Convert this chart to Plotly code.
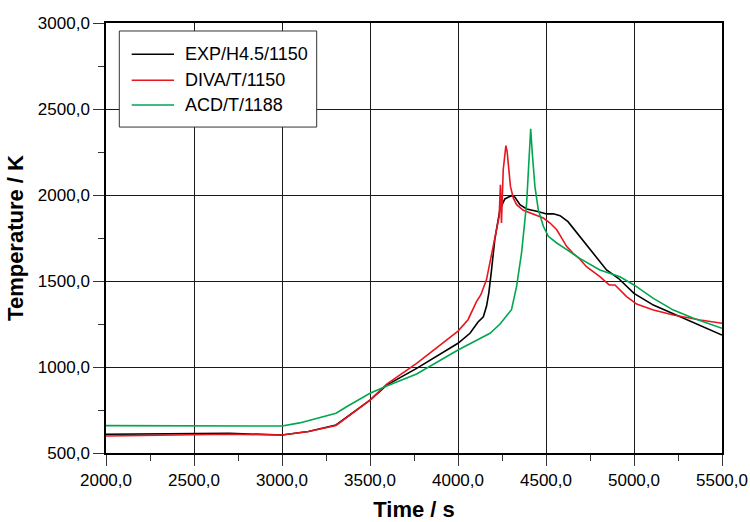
import plotly.graph_objects as go

# --- data -------------------------------------------------------------
exp_t = [2000, 2300, 2700, 3000, 3150, 3307, 3500, 3595, 3765, 4000, 4068, 4114,
         4144, 4162, 4175, 4190, 4209, 4238, 4266, 4304, 4323, 4352, 4390, 4447,
         4504, 4542, 4580, 4625, 4692, 4768, 4844, 4911, 5000, 5110, 5243, 5376, 5500]
exp_T = [609, 611, 614, 605, 625, 663, 808, 895, 992, 1138, 1196, 1262,
         1292, 1353, 1430, 1560, 1740, 1915, 1977, 1996, 1988, 1944, 1919, 1905,
         1890, 1891, 1880, 1845, 1758, 1661, 1564, 1516, 1428, 1360, 1302, 1244, 1186]

diva_t = [2000, 2300, 2700, 3000, 3150, 3307, 3500, 3595, 3765, 4000, 4057, 4105,
          4130, 4162, 4197, 4209, 4234, 4241, 4247, 4257, 4266, 4272, 4279, 4285,
          4298, 4314, 4333, 4371, 4409, 4447, 4485, 4523, 4561, 4618, 4654, 4694,
          4730, 4806, 4859, 4892, 4911, 4958, 5015, 5110, 5224, 5376, 5500]
diva_T = [599, 603, 609, 605, 625, 660, 808, 900, 1021, 1209, 1275, 1380,
          1420, 1508, 1680, 1740, 1876, 2060, 1837, 2147, 2254, 2287, 2254, 2186,
          2050, 1983, 1944, 1911, 1895, 1880, 1866, 1837, 1798, 1700, 1661, 1625,
          1583, 1525, 1477, 1477, 1457, 1409, 1366, 1331, 1302, 1273, 1254]

acd_t = [2000, 2500, 2700, 3000, 3100, 3200, 3307, 3367, 3500, 3595, 3765, 4000,
         4182, 4239, 4257, 4304, 4333, 4361, 4390, 4403, 4413, 4422, 4437, 4456,
         4485, 4513, 4561, 4618, 4694, 4806, 4920, 5000, 5110, 5224, 5338, 5500]
acd_T = [659, 659, 660, 657, 675, 700, 731, 769, 847, 889, 959, 1099,
         1196, 1250, 1275, 1333, 1469, 1663, 1953, 2205, 2385, 2244, 2050, 1915,
         1818, 1760, 1721, 1682, 1630, 1564, 1525, 1477, 1399, 1331, 1283, 1225]

series_names = ["EXP/H4.5/1150", "DIVA/T/1150", "ACD/T/1188"]
series_colors = ["#000000", "#e8161e", "#00a650"]

x_ticks = [2000, 2500, 3000, 3500, 4000, 4500, 5000, 5500]
y_ticks = [500, 1000, 1500, 2000, 2500, 3000]
x_ticktext = [f"{v:.1f}".replace(".", ",") for v in x_ticks]
y_ticktext = [f"{v:.1f}".replace(".", ",") for v in y_ticks]

FONT = "Liberation Sans, Arial, Helvetica, sans-serif"

# --- figure -----------------------------------------------------------
fig = go.Figure()
for name, color, xs, ys in zip(series_names, series_colors,
                               [exp_t, diva_t, acd_t], [exp_T, diva_T, acd_T]):
    fig.add_trace(go.Scatter(x=xs, y=ys, mode="lines", name=name,
                             line=dict(color=color, width=1.6), showlegend=False))

axis_common = dict(
    showline=True, mirror=True, linecolor="#000000", linewidth=1.5,
    showgrid=True, gridcolor="#1a1a1a", gridwidth=1,
    ticks="outside", ticklen=11, tickwidth=1, tickcolor="#333333",
    tickfont=dict(family=FONT, size=17, color="#000000"),
    zeroline=False,
)

fig.update_xaxes(
    range=[2000, 5500], tickmode="array", tickvals=x_ticks, ticktext=x_ticktext,
    minor=dict(dtick=250, tick0=2000, ticks="outside", ticklen=6,
               tickcolor="#333333", showgrid=False),
    title=dict(text="<b>Time / s</b>", standoff=14,
               font=dict(family=FONT, size=22, color="#000000")),
    **axis_common,
)
fig.update_yaxes(
    range=[500, 3000], tickmode="array", tickvals=y_ticks, ticktext=y_ticktext,
    minor=dict(dtick=250, tick0=500, ticks="outside", ticklen=6,
               tickcolor="#333333", showgrid=False),
    title=dict(text="<b>Temperature / K</b>", standoff=8,
               font=dict(family=FONT, size=22, color="#000000")),
    **axis_common,
)

# --- legend box drawn in paper coordinates ------------------------------
legend_box = dict(x0=0.0216, x1=0.342, y0=0.758, y1=0.9814)
legend_rows = [0.9272, 0.8670, 0.8093]
sample_x = (0.0417, 0.1104)
label_x = 0.1255

shapes = [dict(type="rect", xref="paper", yref="paper", layer="above",
               fillcolor="#ffffff", line=dict(color="#333333", width=1),
               **legend_box)]
annotations = []
for name, color, ry in zip(series_names, series_colors, legend_rows):
    shapes.append(dict(type="line", xref="paper", yref="paper", layer="above",
                       x0=sample_x[0], x1=sample_x[1], y0=ry, y1=ry,
                       line=dict(color=color, width=1.6)))
    annotations.append(dict(xref="paper", yref="paper", x=label_x, y=ry,
                            xanchor="left", yanchor="middle", showarrow=False,
                            text=name,
                            font=dict(family=FONT, size=18, color="#000000")))

fig.update_layout(
    width=750, height=522,
    margin=dict(l=106, r=28, t=23, b=69, autoexpand=False),
    paper_bgcolor="#ffffff", plot_bgcolor="#ffffff",
    font=dict(family=FONT, color="#000000"),
    showlegend=False,
    shapes=shapes,
    annotations=annotations,
)

fig.write_html("out.html")
